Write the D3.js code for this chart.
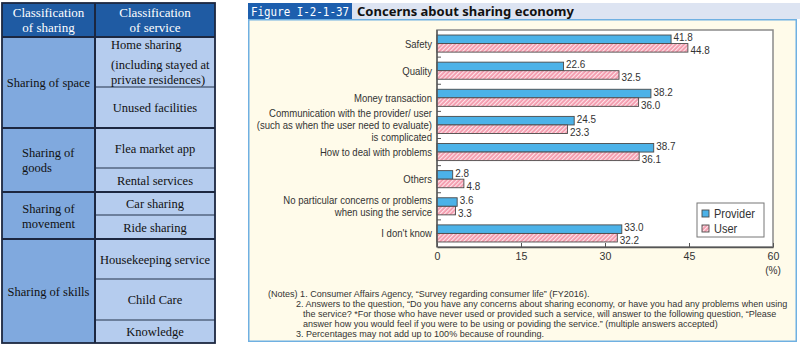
<!DOCTYPE html>
<html><head><meta charset="utf-8">
<script src="https://cdn.jsdelivr.net/npm/d3@7"></script>
<style>
html,body{margin:0;padding:0;background:#fff;}
svg{display:block;}
</style></head>
<body>
<svg id="c" width="800" height="345"></svg>
<script>
// ---------- DATA ----------
const categories = [
  ["Safety"],
  ["Quality"],
  ["Money transaction"],
  ["Communication with the provider/ user", "(such as when the user need to evaluate)", "is complicated"],
  ["How to deal with problems"],
  ["Others"],
  ["No particular concerns or problems", "when using the service"],
  ["I don't know"]
];
const seriesNames = ["Provider", "User"];
const providerValues = [41.8, 22.6, 38.2, 24.5, 38.7, 2.8, 3.6, 33.0];
const userValues = [44.8, 32.5, 36.0, 23.3, 36.1, 4.8, 3.3, 32.2];
const xTicks = [0, 15, 30, 45, 60];

const tableHeader = [["Classification", "of sharing"], ["Classification", "of service"]];
const sharingGroups = [
  ["Sharing of space"],
  ["Sharing of", "goods"],
  ["Sharing of", "movement"],
  ["Sharing of skills"]
];
const services = [
  {group: 0, lines: ["Home sharing", "(including stayed at", "private residences)"]},
  {group: 0, lines: ["Unused facilities"]},
  {group: 1, lines: ["Flea market app"]},
  {group: 1, lines: ["Rental services"]},
  {group: 2, lines: ["Car sharing"]},
  {group: 2, lines: ["Ride sharing"]},
  {group: 3, lines: ["Housekeeping service"]},
  {group: 3, lines: ["Child Care"]},
  {group: 3, lines: ["Knowledge"]}
];
const figureLabel = "Figure I-2-1-37";
const title = "Concerns about sharing economy";
const notes = [
  "(Notes) 1. Consumer Affairs Agency, \u201cSurvey regarding consumer life\u201d (FY2016).",
  "2. Answers to the question, \u201cDo you have any concerns about sharing economy, or have you had any problems when using",
  "the service? *For those who have never used or provided such a service, will answer to the following question, \u201cPlease",
  "answer how you would feel if you were to be using or poviding the service.\u201d (multiple answers accepted)",
  "3. Percentages may not add up to 100% because of rounding."
];

// ---------- helpers ----------
function condense(sel, f) {
  sel.each(function () {
    const w = this.getComputedTextLength();
    d3.select(this).attr("textLength", w * f).attr("lengthAdjust", "spacingAndGlyphs");
  });
}

// ---------- LAYOUT ----------
const svg = d3.select("#c");
const defs = svg.append("defs");
const pat = defs.append("pattern").attr("id", "hatch").attr("patternUnits", "userSpaceOnUse")
  .attr("width", 3).attr("height", 3).attr("patternTransform", "rotate(45)");
pat.append("rect").attr("width", 3).attr("height", 3).attr("fill", "#f398ab");
pat.append("rect").attr("width", 1.2).attr("height", 3).attr("fill", "#fde4ea");

// ===== Left table =====
const T = {x0: 2, x1: 95, x2: 215, y0: 3, yH: 37};
const rowEdges = [37, 87, 128, 168, 192, 215, 239, 279, 320, 343];
const tbl = svg.append("g").attr("font-family", "'Liberation Serif', 'Times New Roman', serif")
  .attr("font-size", 12.5);

tbl.append("rect").attr("x", T.x0).attr("y", T.y0).attr("width", T.x2 - T.x0).attr("height", T.yH - T.y0)
  .attr("fill", "#1f5ba3");
const groupSpans = sharingGroups.map((g, gi) => {
  const idx = services.map((s, i) => s.group === gi ? i : -1).filter(i => i >= 0);
  return {y0: rowEdges[idx[0]], y1: rowEdges[idx[idx.length - 1] + 1], lines: g};
});
tbl.selectAll("rect.grp").data(groupSpans).join("rect").attr("class", "grp")
  .attr("x", T.x0).attr("y", d => d.y0).attr("width", T.x1 - T.x0).attr("height", d => d.y1 - d.y0)
  .attr("fill", "#80a9de");
tbl.selectAll("rect.svc").data(services).join("rect").attr("class", "svc")
  .attr("x", T.x1).attr("y", (d, i) => rowEdges[i]).attr("width", T.x2 - T.x1)
  .attr("height", (d, i) => rowEdges[i + 1] - rowEdges[i]).attr("fill", "#b5ccee");
tbl.selectAll("line.sd").data(services.slice(1)).join("line").attr("class", "sd")
  .attr("x1", T.x1).attr("x2", T.x2).attr("y1", (d, i) => rowEdges[i + 1]).attr("y2", (d, i) => rowEdges[i + 1])
  .attr("stroke", "#25324a").attr("stroke-width", 1.2);
tbl.selectAll("line.gd").data(groupSpans).join("line").attr("class", "gd")
  .attr("x1", T.x0).attr("x2", T.x2).attr("y1", d => d.y0).attr("y2", d => d.y0)
  .attr("stroke", "#1c2740").attr("stroke-width", 2);
tbl.append("line").attr("x1", T.x1).attr("x2", T.x1).attr("y1", T.y0).attr("y2", 343)
  .attr("stroke", "#1c2740").attr("stroke-width", 2);
tbl.append("rect").attr("x", T.x0).attr("y", T.y0).attr("width", T.x2 - T.x0).attr("height", 343 - T.y0)
  .attr("fill", "none").attr("stroke", "#1c2740").attr("stroke-width", 1.8);
tableHeader.forEach((h, i) => {
  const cx = i === 0 ? (T.x0 + T.x1) / 2 : (T.x1 + T.x2) / 2;
  h.forEach((ln, j) => {
    tbl.append("text").attr("x", cx).attr("y", 17 + j * 15).attr("text-anchor", "middle")
      .attr("font-size", 13).attr("fill", "#fff").text(ln);
  });
});
groupSpans.forEach((g, gi) => {
  const cy = (g.y0 + g.y1) / 2;
  const n = g.lines.length;
  g.lines.forEach((ln, j) => {
    const t = tbl.append("text").attr("y", cy + 4.5 + (j - (n - 1) / 2) * 15).attr("fill", "#111").text(ln);
    if (gi === 1) t.attr("x", 22).attr("text-anchor", "start");
    else t.attr("x", (T.x0 + T.x1) / 2).attr("text-anchor", "middle");
  });
});
services.forEach((s, i) => {
  const y0 = rowEdges[i], y1 = rowEdges[i + 1];
  if (s.lines.length === 3) {
    [49, 69, 84].forEach((yy, j) => {
      tbl.append("text").attr("x", 111).attr("y", yy).attr("fill", "#111").text(s.lines[j]);
    });
  } else {
    tbl.append("text").attr("x", (T.x1 + T.x2) / 2).attr("y", (y0 + y1) / 2 + 4.5)
      .attr("text-anchor", "middle").attr("fill", "#111").text(s.lines[0]);
  }
});

// ===== Right figure =====
const P = {x0: 248, x1: 797, y0: 19, y1: 342};
svg.append("rect").attr("x", P.x0).attr("y", 3).attr("width", 800 - P.x0).attr("height", 16).attr("fill", "#dde4f2");
svg.append("rect").attr("x", P.x0).attr("y", 3).attr("width", 104).attr("height", 16).attr("fill", "#1d5fae");
svg.append("text").attr("x", 251).attr("y", 16).attr("fill", "#fff")
  .attr("font-family", "'DejaVu Sans Mono', monospace").attr("font-size", 13)
  .attr("textLength", 98).attr("lengthAdjust", "spacingAndGlyphs").text(figureLabel);
svg.append("text").attr("x", 357).attr("y", 16).attr("fill", "#111")
  .attr("font-family", "'Noto Sans', sans-serif").attr("font-weight", "bold").attr("font-size", 13)
  .text(title);
svg.append("rect").attr("x", P.x0 + 0.75).attr("y", P.y0 + 0.75).attr("width", P.x1 - P.x0 - 1.5)
  .attr("height", P.y1 - P.y0 - 1.5).attr("fill", "#fffbea").attr("stroke", "#6fb0e2").attr("stroke-width", 1.5);

const M = {left: 437, right: 773, top: 30, bottom: 247};
const x = d3.scaleLinear().domain([0, 60]).range([M.left, M.right]);
const y = d3.scaleBand().domain(d3.range(categories.length)).range([M.top, M.bottom])
  .paddingInner(0.37).paddingOuter(0.185);
const ySub = d3.scaleBand().domain([0, 1]).range([0, y.bandwidth()]);

const FONT = "'Liberation Sans', Arial, sans-serif";
const chart = svg.append("g").attr("font-family", FONT);
chart.append("rect").attr("x", M.left).attr("y", M.top).attr("width", M.right - M.left)
  .attr("height", M.bottom - M.top).attr("fill", "#fff").attr("stroke", "#8a8a8a").attr("stroke-width", 1.5);

const series = [providerValues, userValues];
const fills = ["#4cb2e8", "url(#hatch)"];
series.forEach((vals, si) => {
  chart.selectAll("rect.s" + si).data(vals).join("rect").attr("class", "s" + si)
    .attr("x", x(0)).attr("y", (d, i) => y(i) + ySub(si)).attr("width", d => x(d) - x(0))
    .attr("height", ySub.bandwidth()).attr("fill", fills[si]).attr("stroke", "#4a4a4a").attr("stroke-width", 0.9);
  chart.selectAll("text.v" + si).data(vals).join("text").attr("class", "v" + si)
    .attr("x", d => x(d) + 2.5).attr("y", (d, i) => y(i) + ySub(si) + ySub.bandwidth() / 2 + (si === 0 ? 2 : 6.5))
    .attr("font-size", 11).attr("fill", "#333").text(d => d.toFixed(1))
    .call(condense, 0.9);
});

// axes
const xAxis = d3.axisBottom(x).tickValues(xTicks).tickSizeInner(-4).tickSizeOuter(0).tickPadding(5);
const gx = chart.append("g").attr("transform", `translate(0,${M.bottom})`).call(xAxis);
gx.select(".domain").attr("stroke", "#555").attr("stroke-width", 1.3);
gx.selectAll(".tick line").attr("stroke", "#555");
gx.selectAll(".tick text").attr("font-size", 11.5).attr("fill", "#333").attr("font-family", FONT)
  .call(condense, 0.92);
chart.append("text").attr("x", x(60)).attr("y", 274).attr("text-anchor", "middle")
  .attr("font-size", 11).attr("fill", "#333").text("(%)").call(condense, 0.92);

chart.append("line").attr("x1", M.left).attr("x2", M.left).attr("y1", M.top).attr("y2", M.bottom)
  .attr("stroke", "#555").attr("stroke-width", 1.3);
const bounds = d3.range(1, categories.length).map(i => y(i) - y.step() * y.paddingInner() / 2);
chart.selectAll("line.ct").data(bounds).join("line").attr("class", "ct")
  .attr("x1", M.left).attr("x2", M.left + 4).attr("y1", d => d).attr("y2", d => d)
  .attr("stroke", "#555").attr("stroke-width", 1);

// category labels
const catLabels = chart.append("g");
categories.forEach((lines, i) => {
  const cy = y(i) + y.bandwidth() / 2;
  const n = lines.length;
  lines.forEach((ln, j) => {
    catLabels.append("text").attr("x", M.left - 5).attr("y", cy + 4 + (j - (n - 1) / 2) * 12)
      .attr("text-anchor", "end").attr("font-size", 10.8).attr("fill", "#333").text(ln);
  });
});
(function () {
  const ref = catLabels.selectAll("text").filter(function () { return this.textContent.startsWith("Communication"); }).node();
  const f = 163 / ref.getComputedTextLength();
  condense(catLabels.selectAll("text"), f);
})();

// legend
const lg = chart.append("g");
lg.append("rect").attr("x", 697).attr("y", 203).attr("width", 67).attr("height", 34)
  .attr("fill", "#fff").attr("stroke", "#777").attr("stroke-width", 1);
seriesNames.forEach((nm, i) => {
  lg.append("rect").attr("x", 702).attr("y", 210 + i * 15).attr("width", 7).attr("height", 7)
    .attr("fill", fills[i]).attr("stroke", "#4a4a4a").attr("stroke-width", 0.9);
  lg.append("text").attr("x", 714).attr("y", 218 + i * 15).attr("font-size", 12.5).attr("fill", "#333").text(nm)
    .call(condense, 0.88);
});

// notes: fit font size so the longest line spans the reference width
const nx = [268, 296, 303, 303, 296];
const ny = [297, 307, 317, 327, 337];
const notesG = chart.append("g");
notes.forEach((ln, i) => {
  notesG.append("text").attr("x", nx[i]).attr("y", ny[i]).attr("font-size", 10).attr("fill", "#333").text(ln);
});
(function () {
  const ref = notesG.selectAll("text").nodes()[1];
  const fs = 10 * (788 - 296) / ref.getComputedTextLength();
  notesG.selectAll("text").attr("font-size", fs.toFixed(2));
})();
</script>
</body></html>
